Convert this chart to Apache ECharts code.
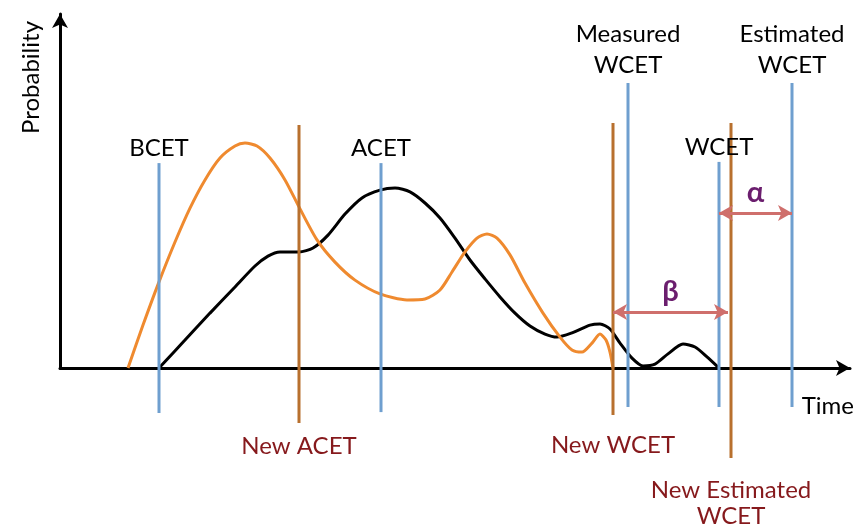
<!DOCTYPE html>
<html><head><meta charset="utf-8">
<script src="https://cdn.jsdelivr.net/npm/echarts@6/dist/echarts.min.js"></script>
<style>html,body{margin:0;padding:0;background:#fff}#c{width:859px;height:531px}</style>
</head><body><div id="c"></div>
<script>
// ---- data (arbitrary time / probability units) ----
const blackCurveX = [19.8, 25, 30, 35, 39, 41.6, 44, 47.8, 50.6, 53.6, 57, 60.4, 64, 67, 70, 73, 76, 79, 82, 85, 88, 91, 94, 97, 99.4, 102.4, 106, 108, 110, 112, 114.4, 116.6, 119, 121.6, 124.6, 127, 129.4, 131.6];
const blackCurveY = [0, 9.3, 18.3, 27, 34, 37.3, 38.7, 38.7, 40, 44.3, 51.3, 56.7, 59.3, 60, 58.7, 55, 50, 43.3, 36, 29.7, 23.7, 18.3, 14, 11.3, 10.3, 11.7, 14.3, 14.7, 13, 8.3, 3.3, 0.7, 1.3, 4.7, 8, 7, 3.7, 0.3];
const orangeCurveX = [13.6, 16.6, 19.8, 23, 26, 29, 32, 35, 37, 39.4, 42, 45, 47.8, 51.4, 55, 59, 64, 69.4, 73, 76, 78.4, 81, 83.4, 85.4, 87.4, 90, 93, 96.6, 100, 102.4, 104.4, 106.4, 108, 109.2, 110, 110.6];
const orangeCurveY = [0, 14.3, 28.7, 42, 53.3, 62.7, 70, 74, 75, 74, 70, 62.7, 53.7, 42.7, 35.3, 29.3, 24.7, 22.7, 23, 26, 32, 38.7, 43.3, 44.7, 43.3, 37.7, 28.3, 18.3, 10.3, 6, 5.3, 8.3, 11.3, 9.3, 5.3, 0];

const markerNames  = ['BCET', 'New ACET', 'ACET', 'New WCET', 'Measured\nWCET', 'WCET', 'New Estimated\nWCET', 'Estimated\nWCET'];
const markerKind   = ['old', 'new', 'old', 'new', 'old', 'old', 'new', 'old'];
const markerX      = [19.8, 47.8, 64.2, 110.6, 113.6, 131.8, 134.2, 146.4];
const markerTop    = [68.3, 81, 68.3, 81.7, 95, 68.7, 81.7, 95];
const markerBottom = [-15, -18.3, -14.7, -15.7, -13, -13, -30, -13];

const gapNames = ['α', 'β'];
const gapFrom  = [131.8, 110.6];
const gapTo    = [146.4, 133.6];
const gapLevel = [51.7, 18.7];

const axisNames = ['Time', 'Probability'];

// ---- styling ----
const FONT = 'Lato, Calibri, "Open Sans", sans-serif';
const FS = 24;
const BLUE = '#6f9fcf', BROWN = '#b8702e', ORANGE = '#ef8a2f', DARKRED = '#86191c';
const bottomGap = { 'New ACET': 10, 'New WCET': 17, 'New Estimated\nWCET': 19 };

const zip = (xs, ys) => xs.map((x, i) => [x, ys[i]]);

const series = [
  {
    type: 'line', data: zip(blackCurveX, blackCurveY), smooth: 0.25, showSymbol: false,
    lineStyle: { color: '#000', width: 3 }, z: 2, silent: true,
    markLine: {
      silent: true, animation: false, symbol: ['arrow', 'arrow'], symbolSize: [12, 14],
      lineStyle: { color: '#cf6f6c', width: 3, type: 'solid' },
      label: { show: true, position: 'insideMiddleTop', formatter: p => p.name, color: '#6b1e6e',
               fontSize: 29, fontWeight: 'bold', fontFamily: FONT, distance: 6 },
      data: gapNames.map((n, i) => [{ name: n, coord: [gapFrom[i], gapLevel[i]] }, { coord: [gapTo[i], gapLevel[i]] }])
    }
  },
  {
    type: 'line', data: zip(orangeCurveX, orangeCurveY), smooth: 0.25, showSymbol: false,
    lineStyle: { color: ORANGE, width: 3 }, z: 2, silent: true
  }
];

markerNames.forEach((name, i) => {
  const isNew = markerKind[i] === 'new';
  const lines = name.split('\n').length;
  const bottomItem = { value: [markerX[i], markerBottom[i]] };
  const topItem = { value: [markerX[i], markerTop[i]] };
  if (isNew) {
    bottomItem.label = { show: true, position: 'bottom', distance: bottomGap[name] || 14, formatter: name,
      color: DARKRED, fontSize: FS, fontFamily: FONT, lineHeight: 26, align: 'center' };
  } else {
    topItem.label = { show: true, position: 'top', distance: 2, formatter: name,
      color: '#000', fontSize: FS, fontFamily: FONT, lineHeight: lines > 1 ? 31 : 26, align: 'center' };
  }
  series.push({
    type: 'line', clip: false, silent: true, symbol: 'circle', symbolSize: 0, showSymbol: true,
    data: [bottomItem, topItem], lineStyle: { color: isNew ? BROWN : BLUE, width: 3 },
    itemStyle: { color: 'transparent' }, z: 3, label: { show: false }
  });
});

const chart = echarts.init(document.getElementById('c'));
chart.setOption({
  animation: false,
  backgroundColor: '#fff',
  grid: { left: 60, right: 9, top: 14, bottom: 163 },
  xAxis: {
    type: 'value', min: 0, max: 158,
    axisLine: { show: true, onZero: false, symbol: ['none', 'arrow'], symbolSize: [12, 14], lineStyle: { color: '#000', width: 3 } },
    axisTick: { show: false }, axisLabel: { show: false }, splitLine: { show: false },
    name: axisNames[0], nameLocation: 'end', nameGap: 4,
    nameTextStyle: { fontFamily: FONT, fontSize: FS, color: '#000', align: 'right', verticalAlign: 'top', padding: [26, 0, 0, 0] }
  },
  yAxis: {
    type: 'value', min: 0, max: 118,
    axisLine: { show: true, onZero: false, symbol: ['none', 'arrow'], symbolSize: [12, 14], lineStyle: { color: '#000', width: 3 } },
    axisTick: { show: false }, axisLabel: { show: false }, splitLine: { show: false },
    name: axisNames[1], nameLocation: 'end', nameRotate: 90, nameGap: -120,
    nameTextStyle: { fontFamily: FONT, fontSize: FS, color: '#000', align: 'left', verticalAlign: 'bottom', padding: [0, 0, 17, 0] }
  },
  series: series
});
</script>
</body></html>
